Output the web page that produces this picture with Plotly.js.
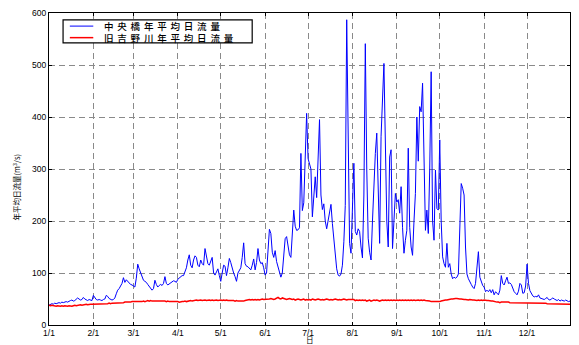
<!DOCTYPE html>
<html>
<head>
<meta charset="utf-8">
<script src="https://cdn.plot.ly/plotly-3.0.1.min.js"></script>
<style>
  html, body { margin: 0; padding: 0; background: #fff; }
  #chart { width: 579px; height: 345px; }
  .annotation[data-index="0"] .annotation-text { letter-spacing: 3.8px; }
</style>
</head>
<body>
<div id="chart"></div>
<script>
// ---- data ----
const seriesNames = ['中央橋年平均日流量', '旧吉野川年平均日流量'];
const monthTickDays = [1, 32, 60, 91, 121, 152, 182, 213, 244, 274, 305, 335];
const monthTickLabels = ['1/1', '2/1', '3/1', '4/1', '5/1', '6/1', '7/1', '8/1', '9/1', '10/1', '11/1', '12/1'];
const yTickVals = [0, 100, 200, 300, 400, 500, 600];
const xTitle = '日';
const yTitle = '年平均日流量(m<sup>3</sup>/s)';

// 中央橋 daily flow (m3/s), Jan 1 .. Dec 31
const chuoJan = [38,40,41,40,42,41,42,43,42,44,43,44,45,44,46,47,48,46,47,49,52,50,48,49,53,50,48,47,49,48,47];
const chuoFeb = [57,52,49,48,49,48,47,49,50,57,55,51,50,48,49,52,60,67,70,75,80,91,82,87,84,80,78,77];
const chuoMar = [75,73,90,117,108,100,90,86,84,82,78,74,70,67,70,86,78,73,76,78,76,80,93,80,77,79,81,83,85,84,82];
const chuoApr = [88,90,92,95,95,103,110,125,135,115,110,125,133,130,115,112,125,118,115,147,130,118,115,122,130,100,96,102,108,95];
const chuoMay = [84,100,115,113,95,110,128,120,108,100,93,84,100,106,110,130,158,118,113,112,108,106,115,127,106,120,147,125,118,120,110];
const chuoJun = [96,100,140,184,176,140,130,143,122,110,104,92,100,140,166,170,150,135,130,185,221,190,182,183,187,330,220,235,320,407];
const chuoJul = [320,312,300,208,245,285,245,320,395,250,222,233,200,185,202,220,232,195,165,130,108,96,94,98,115,160,230,587,300,157,138];
const chuoAug = [220,311,180,173,185,180,150,129,250,541,300,167,140,125,200,280,330,369,250,157,363,420,503,350,200,150,323,337,147,200,253];
const chuoSep = [236,241,215,266,188,138,163,182,340,188,150,134,200,253,400,315,420,410,465,320,182,221,176,300,487,200,163,298,224,221];
const chuoOct = [356,200,131,118,111,157,111,118,98,89,92,90,92,98,200,272,263,250,150,98,89,82,78,73,70,80,110,141,92,82,76];
const chuoNov = [73,64,67,64,68,62,68,58,64,60,58,67,95,80,77,85,92,80,81,78,70,64,61,58,65,80,77,61,62,75];
const chuoDec = [117,80,66,61,56,54,55,54,58,52,51,50,49,51,53,49,48,50,52,50,48,47,49,46,48,47,46,48,46,45,46];

// 旧吉野川 daily flow (m3/s), Jan 1 .. Dec 31
const kyuJan = [38,37,38,37,37,36,37,36,36,37,36,37,36,36,37,36,36,37,38,37,38,38,39,38,39,39,40,39,40,40,40];
const kyuFeb = [40,41,40,41,40,40,41,41,40,41,41,42,41,42,42,42,42,43,42,43,43,43,44,44,43,44,44,45];
const kyuMar = [45,45,44,45,45,44,45,46,45,46,47,46,47,46,46,47,46,46,47,46,47,46,46,45,46,45,45,46,45,45,46];
const kyuApr = [45,44,45,45,45,46,45,46,46,47,46,47,47,48,47,48,48,47,48,48,47,48,48,47,48,47,48,48,47,48];
const kyuMay = [48,47,48,47,48,47,47,48,47,47,46,47,46,46,45,46,46,47,48,48,49,48,49,48,49,48,49,48,49,50,49];
const kyuJun = [49,50,49,50,51,50,49,50,51,53,51,50,52,51,50,49,50,51,50,49,50,48,49,50,49,48,49,50,48,49];
const kyuJul = [48,49,48,50,49,48,49,50,49,48,49,48,49,50,49,48,49,48,49,50,49,48,49,48,49,50,49,48,49,49,48];
const kyuAug = [48,49,47,48,47,48,47,48,47,48,46,47,48,46,47,48,47,48,47,46,47,48,47,48,47,48,47,48,47,48,47];
const kyuSep = [48,47,48,47,48,47,48,47,48,47,48,47,48,47,48,48,47,48,47,48,47,47,46,46,45,45,44,45,44,44];
const kyuOct = [45,46,47,48,48,48,49,49,50,50,51,51,51,50,50,50,49,49,49,48,48,49,48,48,48,47,47,48,47,48,47];
const kyuNov = [48,47,47,47,46,46,46,45,45,44,44,43,44,44,45,45,44,44,43,43,43,43,43,43,43,43,43,43,43,43];
const kyuDec = [43,43,43,42,43,43,43,42,42,43,43,42,42,42,41,41,41,40,41,41,40,40,40,41,40,40,40,40,40,40,40];

const chuo = [].concat(chuoJan, chuoFeb, chuoMar, chuoApr, chuoMay, chuoJun, chuoJul, chuoAug, chuoSep, chuoOct, chuoNov, chuoDec);
const kyu = [].concat(kyuJan, kyuFeb, kyuMar, kyuApr, kyuMay, kyuJun, kyuJul, kyuAug, kyuSep, kyuOct, kyuNov, kyuDec);
const days = chuo.map((_, i) => i + 1);

// ---- chart ----
const colors = ['#0000ff', '#ff0000'];
const widths = [1, 1.5];
const traces = [
  { x: days, y: chuo, type: 'scatter', mode: 'lines', name: seriesNames[0], showlegend: false,
    line: { color: colors[0], width: widths[0] } },
  { x: days, y: kyu, type: 'scatter', mode: 'lines', name: seriesNames[1], showlegend: false,
    line: { color: colors[1], width: widths[1] } }
];

// legend box (paper coords)
const lg = { x0: 0.027, x1: 0.390, y0: 0.904, y1: 0.978, lx0: 0.040, lx1: 0.085, tx: 0.104, rows: [0.958, 0.921] };
const shapes = [
  { type: 'rect', xref: 'paper', yref: 'paper', x0: lg.x0, x1: lg.x1, y0: lg.y0, y1: lg.y1,
    line: { color: '#000', width: 1.2 }, fillcolor: '#fff', layer: 'above' }
];
seriesNames.forEach((nm, i) => {
  shapes.push({ type: 'line', xref: 'paper', yref: 'paper', x0: lg.lx0, x1: lg.lx1, y0: lg.rows[i], y1: lg.rows[i],
    line: { color: colors[i], width: widths[i] }, layer: 'above' });
});
const annotations = [
  { xref: 'paper', yref: 'paper', x: lg.tx, y: (lg.rows[0] + lg.rows[1]) / 2, xanchor: 'left', yanchor: 'middle',
    align: 'left', text: seriesNames.join('<br>'), showarrow: false, borderpad: 0,
    font: { family: 'Noto Sans CJK JP', size: 9.5, color: '#000', weight: 500 } },
  { xref: 'paper', yref: 'paper', x: -0.062, y: 0.44, xanchor: 'center', yanchor: 'middle',
    textangle: -90, text: yTitle, showarrow: false,
    font: { family: 'Noto Sans CJK JP', size: 7.5, color: '#000' } },
  { xref: 'paper', yref: 'paper', x: 0.5, y: -0.047, xanchor: 'center', yanchor: 'middle',
    text: xTitle, showarrow: false, borderpad: 0,
    font: { family: 'Noto Sans CJK JP', size: 7.5, color: '#000' } }
];

const axisCommon = {
  showline: true, linecolor: '#000', linewidth: 1, mirror: 'ticks',
  ticks: 'inside', ticklen: 3, tickcolor: '#000',
  showgrid: true, gridcolor: '#8a8a8a', gridwidth: 1, griddash: '6px,4px',
  zeroline: false, automargin: false,
  tickfont: { family: 'Liberation Sans, Arial, sans-serif', size: 8.5, color: '#000' }
};

const layout = {
  width: 579, height: 345,
  margin: { l: 49, r: 9, t: 13, b: 20 },
  paper_bgcolor: '#fff', plot_bgcolor: '#fff',
  showlegend: false,
  xaxis: Object.assign({}, axisCommon, {
    range: [1, 365], tickmode: 'array', tickvals: monthTickDays, ticktext: monthTickLabels
  }),
  yaxis: Object.assign({}, axisCommon, {
    range: [0, 600], tickmode: 'array', tickvals: yTickVals
  }),
  shapes: shapes,
  annotations: annotations
};

Plotly.newPlot('chart', traces, layout, { displayModeBar: false, staticPlot: true });
</script>
</body>
</html>
